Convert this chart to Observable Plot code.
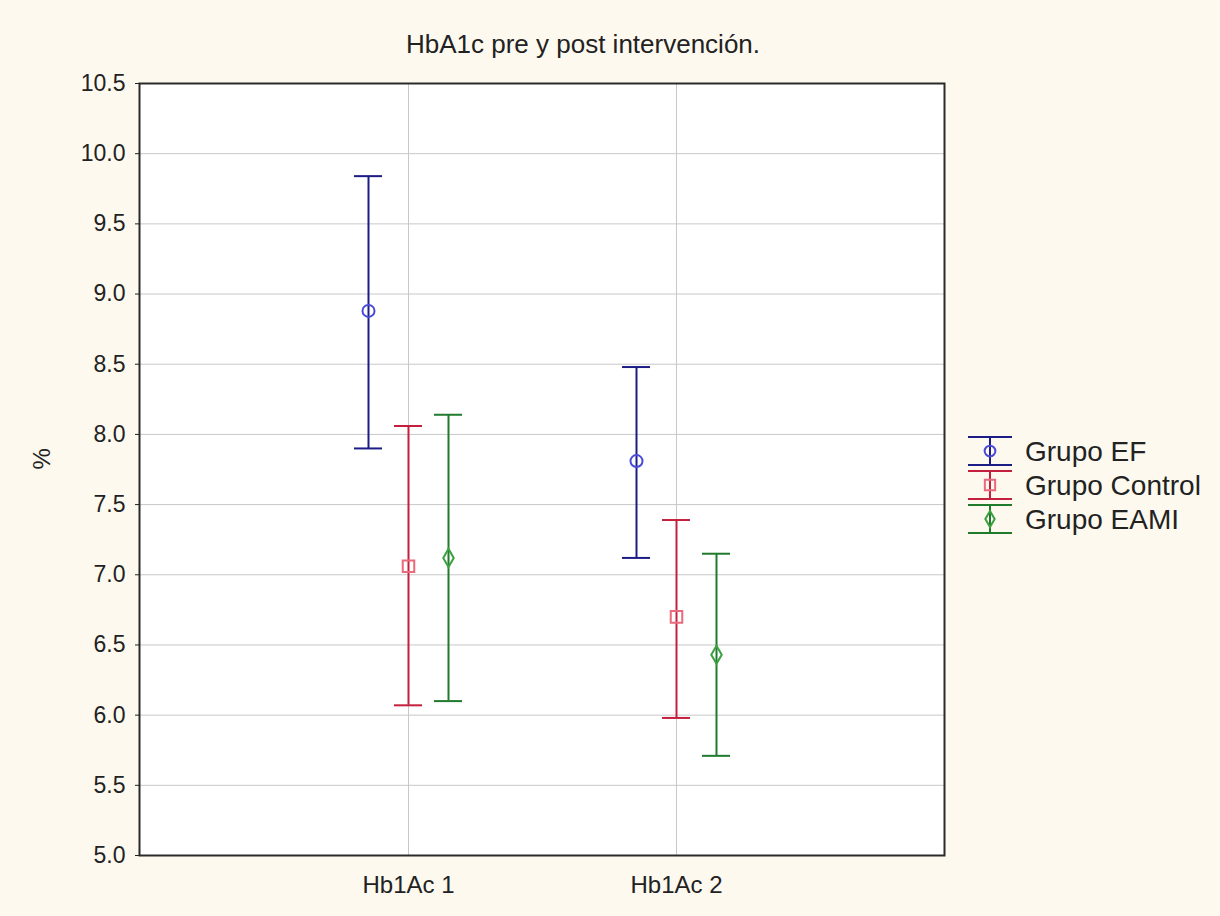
<!DOCTYPE html>
<html>
<head>
<meta charset="utf-8">
<script src="https://cdn.jsdelivr.net/npm/d3@7"></script>
<script src="https://cdn.jsdelivr.net/npm/@observablehq/plot@0.6"></script>
<style>
  html, body { margin: 0; padding: 0; background: #fdf9ef; }
  #wrap { position: relative; width: 1220px; height: 916px; font-family: "Liberation Sans", Arial, sans-serif; }
</style>
</head>
<body>
<div id="wrap"></div>
<script>
const title = "HbA1c pre y post intervención.";
const yLabel = "%";
const categories = ["Hb1Ac 1", "Hb1Ac 2"];
const groups = ["Grupo EF", "Grupo Control", "Grupo EAMI"];
const yTicks = [5.0, 5.5, 6.0, 6.5, 7.0, 7.5, 8.0, 8.5, 9.0, 9.5, 10.0, 10.5];

// Means and interval limits per group (Hb1Ac 1, Hb1Ac 2)
const efMean = [8.88, 7.81];
const efUpper = [9.84, 8.48];
const efLower = [7.90, 7.12];
const controlMean = [7.06, 6.70];
const controlUpper = [8.06, 7.39];
const controlLower = [6.07, 5.98];
const eamiMean = [7.12, 6.43];
const eamiUpper = [8.14, 7.15];
const eamiLower = [6.10, 5.71];

const series = [
  {name: groups[0], mean: efMean, upper: efUpper, lower: efLower, line: "#1c1c86", mark: "#4a4ad8", symbol: "circle", r: 6, dx: -40},
  {name: groups[1], mean: controlMean, upper: controlUpper, lower: controlLower, line: "#c41f3c", mark: "#e86a7c", symbol: "square", r: 6.5, dx: 0},
  {name: groups[2], mean: eamiMean, upper: eamiUpper, lower: eamiLower, line: "#1f7a2c", mark: "#3aa040", symbol: "diamond", r: 5.5, dx: 40}
];

const marks = [
  Plot.frame({fill: "white"}),
  Plot.gridY(yTicks, {stroke: "#c8c8c8", strokeOpacity: 1, strokeWidth: 1}),
  Plot.gridX(categories, {stroke: "#c8c8c8", strokeOpacity: 1, strokeWidth: 1})
];

for (const s of series) {
  const rows = categories.map((c, i) => ({cat: c, mean: s.mean[i], upper: s.upper[i], lower: s.lower[i], group: s.name}));
  marks.push(
    Plot.ruleX(rows, {x: "cat", y1: "lower", y2: "upper", stroke: s.line, strokeWidth: 2, dx: s.dx}),
    Plot.ruleY(rows, {x1: "cat", x2: "cat", y: "upper", stroke: s.line, strokeWidth: 2, dx: s.dx, insetLeft: -14, insetRight: -14}),
    Plot.ruleY(rows, {x1: "cat", x2: "cat", y: "lower", stroke: s.line, strokeWidth: 2, dx: s.dx, insetLeft: -14, insetRight: -14}),
    Plot.dot(rows, {x: "cat", y: "mean", symbol: s.symbol, r: s.r, stroke: s.mark, strokeWidth: 2, fill: "none", dx: s.dx})
  );
}

marks.push(
  Plot.frame({stroke: "#2a2a2a", strokeWidth: 2}),
  Plot.axisY(yTicks, {tickFormat: d => d.toFixed(1), tickSize: 4, tickPadding: 10, fontSize: 23, label: null}),
  Plot.axisX(categories, {tickSize: 0, tickPadding: 20, fontSize: 24, label: null}),
  Plot.text([yLabel], {frameAnchor: "left", dx: -97, rotate: -90, fontSize: 24, fill: "#222"}),
  Plot.text([title], {frameAnchor: "top", dx: 41, dy: -39, lineAnchor: "middle", fontSize: 26, fill: "#222"})
);

const chart = Plot.plot({
  width: 1220,
  height: 916,
  marginLeft: 139,
  marginRight: 276,
  marginTop: 83,
  marginBottom: 61,
  style: {background: "transparent", fontFamily: "'Liberation Sans', Arial, sans-serif", color: "#222", overflow: "visible"},
  x: {type: "point", domain: categories, padding: 1},
  y: {domain: [5, 10.5]},
  marks
});

const wrap = document.getElementById("wrap");
wrap.appendChild(chart);

// Legend (drawn with d3 beside the plot)
const lg = d3.select(wrap).append("svg")
  .attr("width", 1220).attr("height", 916)
  .style("position", "absolute").style("left", "0px").style("top", "0px")
  .style("pointer-events", "none");

const sym = {circle: d3.symbolCircle, square: d3.symbolSquare, diamond: d3.symbolDiamond};
series.forEach((s, i) => {
  const cy = 451 + i * 34;
  const g = lg.append("g").attr("transform", `translate(990,${cy})`);
  g.append("line").attr("x1", 0).attr("x2", 0).attr("y1", -14).attr("y2", 14).attr("stroke", s.line).attr("stroke-width", 2);
  g.append("line").attr("x1", -22).attr("x2", 22).attr("y1", -14).attr("y2", -14).attr("stroke", s.line).attr("stroke-width", 2);
  g.append("line").attr("x1", -22).attr("x2", 22).attr("y1", 14).attr("y2", 14).attr("stroke", s.line).attr("stroke-width", 2);
  g.append("path").attr("d", d3.symbol(sym[s.symbol], Math.PI * s.r * s.r * 0.8)()).attr("fill", "none").attr("stroke", s.mark).attr("stroke-width", 2);
  lg.append("text").attr("x", 1025).attr("y", cy).attr("dy", "0.35em")
    .attr("font-family", "'Liberation Sans', Arial, sans-serif").attr("font-size", 28).attr("fill", "#222")
    .text(s.name);
});
</script>
</body>
</html>
